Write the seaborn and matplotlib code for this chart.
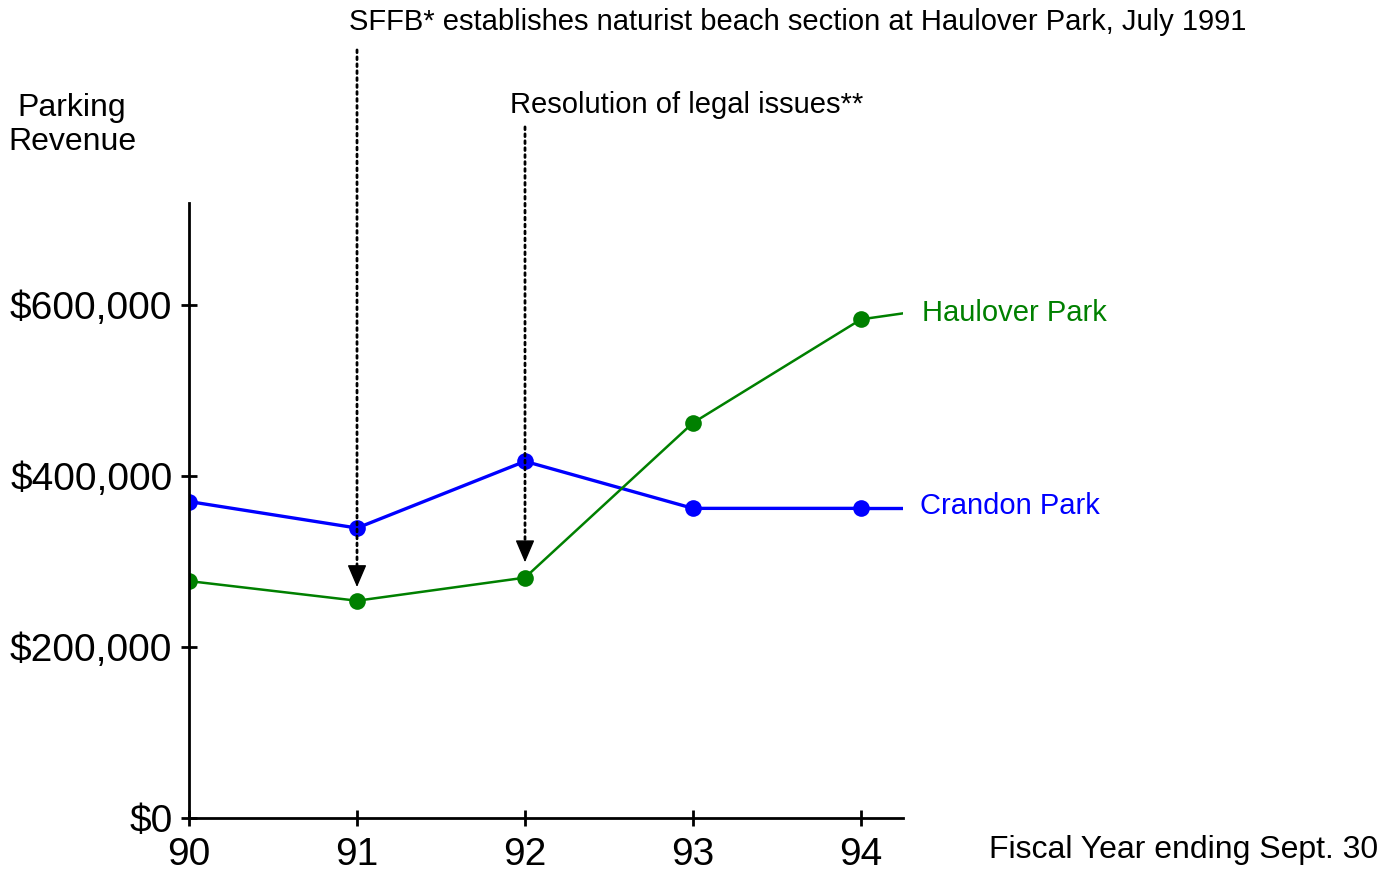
import pandas as pd
import matplotlib.pyplot as plt
import seaborn as sns

sns.set_theme(style="white")
plt.rcParams["font.family"] = ["Liberation Sans", "DejaVu Sans"]
plt.rcParams["text.color"] = "black"

years = [90, 91, 92, 93, 94]
crandon = [370000, 339000, 417000, 362000, 362000]
haulover = [277000, 254000, 281000, 462000, 583000]

# short tail drawn past the last fiscal year
tail_years = [94, 94.25]
crandon_tail = [362000, 362000]
haulover_tail = [583000, 590000]

yticks = [0, 200000, 400000, 600000]
ytick_labels = ["$0", "$200,000", "$400,000", "$600,000"]
xtick_labels = ["90", "91", "92", "93", "94"]

# event markers: year, arrow tip, top of dotted line
event_years = [91, 92]
event_tips = [270000, 299000]
event_tops = [898000, 808000]

blue = "#0000ff"
green = "#008000"

df = pd.DataFrame({"year": years, "Crandon Park": crandon, "Haulover Park": haulover})

fig = plt.figure(figsize=(13.95, 8.74), dpi=100)
ax = fig.add_axes([0.1355, 0.0641, 0.5118, 0.7036])

sns.lineplot(x=tail_years, y=crandon_tail, color=blue, linewidth=2.4, ax=ax)
sns.lineplot(x=tail_years, y=haulover_tail, color=green, linewidth=1.8, ax=ax)
sns.lineplot(data=df, x="year", y="Crandon Park", color=blue, linewidth=2.4,
             marker="o", markersize=12, markeredgewidth=0, ax=ax)
sns.lineplot(data=df, x="year", y="Haulover Park", color=green, linewidth=1.8,
             marker="o", markersize=12, markeredgewidth=0, ax=ax)

ax.set_xlim(90, 94.25)
ax.set_ylim(0, 719000)
ax.set_xticks(years)
ax.set_xticklabels(xtick_labels, fontsize=28)
ax.set_yticks(yticks)
ax.set_yticklabels(ytick_labels, fontsize=28)
ax.set_xlabel("")
ax.set_ylabel("")

for side in ["top", "right"]:
    ax.spines[side].set_visible(False)
for side in ["left", "bottom"]:
    ax.spines[side].set_color("black")
    ax.spines[side].set_linewidth(2)

ax.tick_params(axis="both", bottom=True, left=True, direction="inout", length=12,
               width=2, color="black", labelcolor="black")
ax.tick_params(axis="x", pad=8)
ax.tick_params(axis="y", pad=6)

# event arrows: dotted shaft, solid head
head = 17000
for yr, tip, top in zip(event_years, event_tips, event_tops):
    ax.annotate("", xy=(yr, tip + head), xytext=(yr, top), annotation_clip=False,
                arrowprops=dict(arrowstyle="-", linestyle=(0, (1, 1.5)),
                                color="black", lw=2, shrinkA=0, shrinkB=0))
    ax.annotate("", xy=(yr, tip), xytext=(yr, tip + head), annotation_clip=False,
                arrowprops=dict(arrowstyle="-|>,head_length=0.7,head_width=0.3",
                                color="black", lw=1, mutation_scale=20,
                                shrinkA=0, shrinkB=0))

fig.text(798 / 1395, 1 - 22 / 874, "SFFB* establishes naturist beach section at Haulover Park, July 1991",
         ha="center", va="center", fontsize=21)
fig.text(687 / 1395, 1 - 105 / 874, "Resolution of legal issues**",
         ha="center", va="center", fontsize=21)
fig.text(72 / 1395, 1 - 125 / 874, "Parking\nRevenue", ha="center", va="center",
         fontsize=23, linespacing=1.2)

fig.text(922 / 1395, 1 - 313 / 874, "Haulover Park", color=green, ha="left",
         va="center", fontsize=21)
fig.text(920 / 1395, 1 - 506 / 874, "Crandon Park", color=blue, ha="left",
         va="center", fontsize=21)
fig.text(1378 / 1395, 1 - 850 / 874, "Fiscal Year ending Sept. 30", ha="right",
         va="center", fontsize=23)

plt.savefig("out.png", dpi=100)
plt.close()
